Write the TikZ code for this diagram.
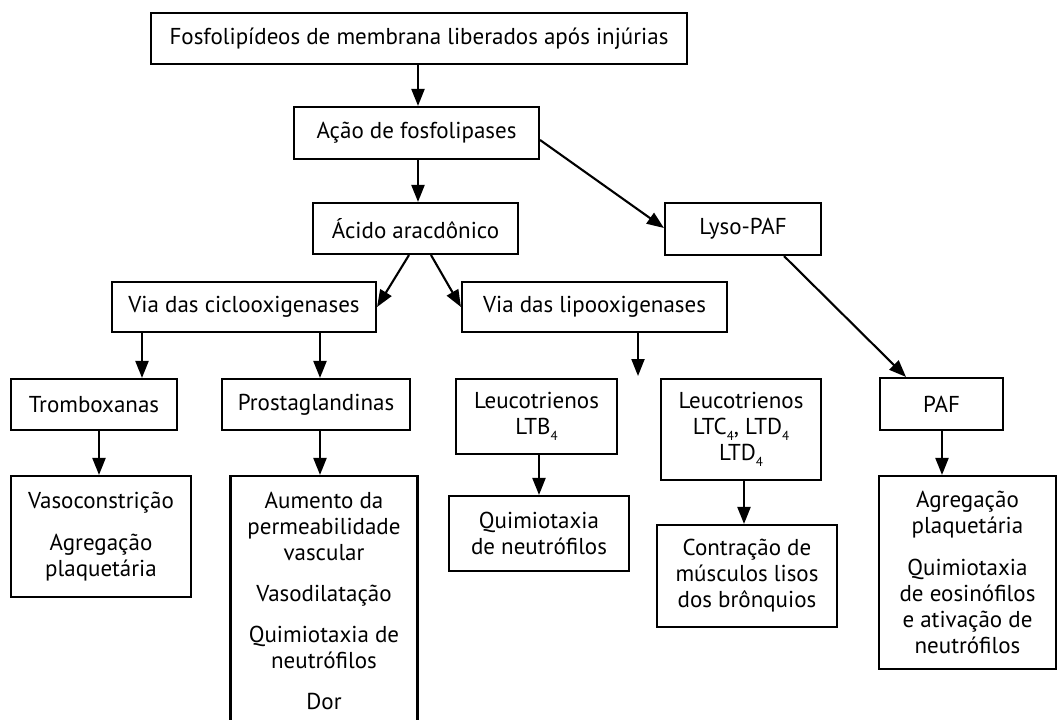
\documentclass[tikz,border=0pt]{standalone}
\usepackage{fontspec}
\setmainfont{PT Sans}
\usetikzlibrary{arrows.meta}
\newcommand\sbs[1]{\raisebox{-0.55ex}{\fontsize{13}{13}\selectfont #1}}
\begin{document}
\begin{tikzpicture}[x=1pt,y=-1pt,
 box/.style={draw, line width=2.1pt, inner sep=0pt, align=center, font=\fontsize{23}{26}\selectfont},
 arr/.style={line width=2.1pt, -{Triangle[length=17pt,width=13pt]}}]
\useasboundingbox (0,0) rectangle (1060,720);
\node[box, minimum width=536pt, minimum height=51pt] (top) at (419,38.5) {Fosfolipídeos de membrana liberados após injúrias};
\node[box, minimum width=245pt, minimum height=52pt] (aca) at (416.5,133) {Ação de fosfolipases};
\node[box, minimum width=205pt, minimum height=51pt] (aci) at (415.5,228.5) {Ácido aracdônico};
\node[box, minimum width=156pt, minimum height=52pt] (lyso) at (743,229) {Lyso-PAF};
\node[box, minimum width=264pt, minimum height=50pt] (cox) at (244,307) {Via das ciclooxigenases};
\node[box, minimum width=265pt, minimum height=50pt] (lip) at (594.5,307) {Via das lipooxigenases};
\node[box, minimum width=166pt, minimum height=51pt] (trom) at (94,404.5) {Tromboxanas};
\node[box, minimum width=188pt, minimum height=51pt] (pros) at (316,404.5) {Prostaglandinas};
\node[box, minimum width=161pt, minimum height=75pt] (ltb) at (536.5,416.5) {Leucotrienos\\LTB\sbs{4}};
\node[box, minimum width=160pt, minimum height=101pt] (ltc) at (741,429.5) {Leucotrienos\\LTC\sbs{4}, LTD\sbs{4}\\LTD\sbs{4}};
\node[box, minimum width=123pt, minimum height=52pt] (paf) at (941.5,404) {PAF};
\node[box, minimum width=180pt, minimum height=121pt] (vaso) at (101,536.5) {Vasoconstrição\\[16pt]Agregação\\plaquetária};
\node[box, minimum width=187pt, minimum height=250pt] (pe) at (324,601) {Aumento da\\permeabilidade\\vascular\\[15pt]Vasodilatação\\[15pt]Quimiotaxia de\\neutrófilos\\[15pt]Dor};
\node[box, minimum width=180pt, minimum height=75pt] (qn) at (539,533.5) {Quimiotaxia\\de neutrófilos};
\node[box, minimum width=180pt, minimum height=102pt] (con) at (747,576) {Contração de\\músculos lisos\\dos brônquios};
\node[box, minimum width=177pt, minimum height=193pt] (pe2) at (967.5,572.5) {Agregação\\plaquetária\\[16pt]Quimiotaxia\\de eosinófilos\\e ativação de\\neutrófilos};
\coordinate (lipend) at (638,376);
\draw[arr] (top.south -| 418,0) -- (aca.north -| 418,0);
\draw[arr] (aca.south -| 418,0) -- (aci.north -| 418,0);
\draw[arr] (aca.east |- 0,140) -- (lyso.west |- 0,228);
\draw[arr] (aci.south -| 409,0) -- (cox.east);
\draw[arr] (aci.south -| 431,0) -- (lip.west);
\draw[arr] (lyso.south -| 784,0) -- (paf.north -| 906,0);
\draw[arr] (cox.south -| 142,0) -- (trom.north -| 142,0);
\draw[arr] (cox.south -| 320,0) -- (pros.north -| 320,0);
\draw[arr] (lip.south -| lipend) -- (lipend);
\draw[arr] (trom.south -| 99,0) -- (vaso.north -| 99,0);
\draw[arr] (pros.south -| 320,0) -- (pe.north -| 320,0);
\draw[arr] (ltb.south -| 539,0) -- (qn.north -| 539,0);
\draw[arr] (ltc.south -| 744,0) -- (con.north -| 744,0);
\draw[arr] (paf.south -| 942,0) -- (pe2.north -| 942,0);
\end{tikzpicture}
\end{document}
